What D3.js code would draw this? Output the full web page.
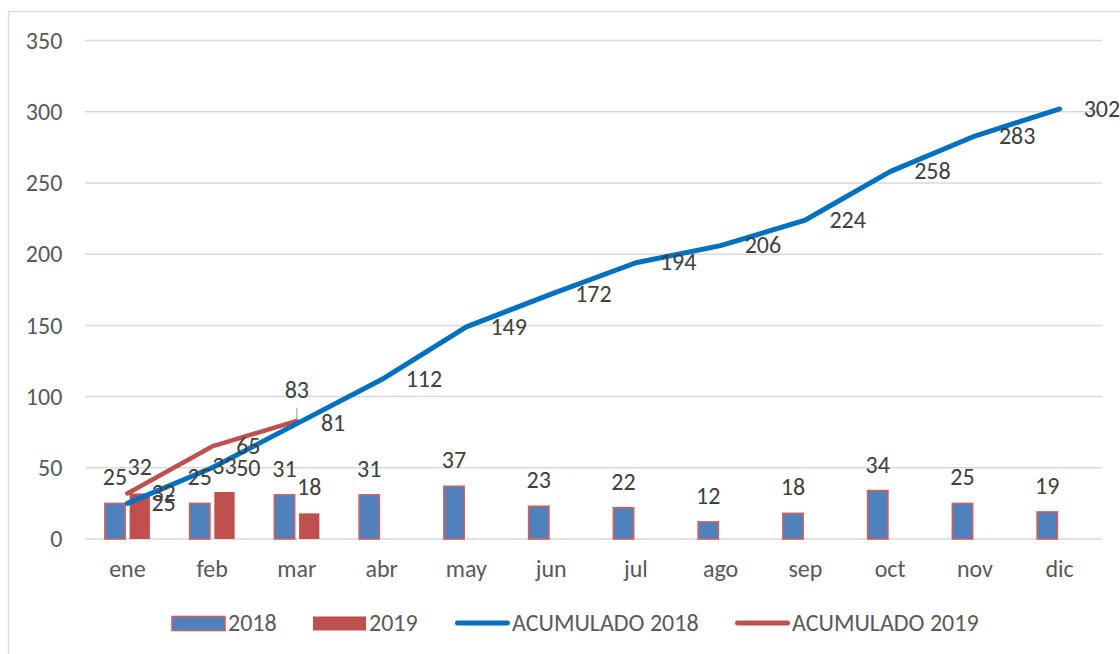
<!DOCTYPE html>
<html><head><meta charset="utf-8">
<script src="https://cdn.jsdelivr.net/npm/d3@7"></script>
<style>body{margin:0;background:#fff}svg{display:block}text{font-family:Carlito,Calibri,"Open Sans",sans-serif}</style>
</head><body><svg id="c" width="1120" height="654"></svg>
<script>
const months = ["ene","feb","mar","abr","may","jun","jul","ago","sep","oct","nov","dic"];
const monthly2018 = [25,25,31,31,37,23,22,12,18,34,25,19];
const monthly2019 = [32,33,18];
const acum2018 = [25,50,81,112,149,172,194,206,224,258,283,302];
const acum2019 = [32,65,83];
const yTicks = [0,50,100,150,200,250,300,350];
const legendLabels = ["2018","2019","ACUMULADO 2018","ACUMULADO 2019"];

const svg = d3.select("#c");
const BLUE="#4f81bd", RED="#c0504d", LBLUE="#0070c0";
const FS = "24px";

svg.append("rect").attr("x",8.5).attr("y",11.5).attr("width",1300).attr("height",800)
  .attr("fill","#fff").attr("stroke","#d9d9d9").attr("stroke-width",1.3);

const x = d3.scaleBand().domain(months).range([85,1102]).padding(0);
const y = d3.scaleLinear().domain([0,350]).range([539,40.6]);
const xs = d3.scaleBand().domain(["2018","2019"]).range([-22.5,22.5]).paddingInner(0.18);
const cx = m => x(m)+x.bandwidth()/2;

// gridlines
svg.append("g").selectAll("line").data(yTicks).join("line")
  .attr("x1",85).attr("x2",1102).attr("y1",d=>y(d)).attr("y2",d=>y(d))
  .attr("stroke","#d9d9d9").attr("stroke-width",1.5);

// y axis
const ya = svg.append("g").attr("transform","translate(85,0)")
  .call(d3.axisLeft(y).tickValues(yTicks).tickSize(0).tickPadding(22.7));
ya.select(".domain").remove();
ya.selectAll("text").attr("fill","#595959").style("font-size",FS);

// x axis
const xa = svg.append("g").attr("transform","translate(0,539)")
  .call(d3.axisBottom(x).tickSize(0).tickPadding(21));
xa.select(".domain").remove();
xa.selectAll("text").attr("fill","#595959").style("font-size",FS);

// bars
const b18 = months.map((m,i)=>({m,v:monthly2018[i]}));
const b19 = monthly2019.map((v,i)=>({m:months[i],v}));
svg.append("g").selectAll("rect").data(b18).join("rect")
  .attr("x",d=>cx(d.m)+xs("2018")).attr("width",xs.bandwidth())
  .attr("y",d=>y(d.v)).attr("height",d=>y(0)-y(d.v))
  .attr("fill",BLUE).attr("stroke","#d0605c").attr("stroke-width",1.6);
svg.append("g").selectAll("rect").data(b19).join("rect")
  .attr("x",d=>cx(d.m)+xs("2019")).attr("width",xs.bandwidth())
  .attr("y",d=>y(d.v)).attr("height",d=>y(0)-y(d.v))
  .attr("fill",RED);

// lines
const line = d3.line().x(d=>cx(d.m)).y(d=>y(d.v));
const l18 = months.map((m,i)=>({m,v:acum2018[i]}));
const l19 = acum2019.map((v,i)=>({m:months[i],v}));
svg.append("path").datum(l19).attr("d",line).attr("fill","none")
  .attr("stroke",RED).attr("stroke-width",4.5).attr("stroke-linecap","round").attr("stroke-linejoin","round");
svg.append("path").datum(l18).attr("d",line).attr("fill","none")
  .attr("stroke",LBLUE).attr("stroke-width",5).attr("stroke-linecap","round").attr("stroke-linejoin","round");

// labels
const lab = svg.append("g").attr("fill","#404040").style("font-size",FS);
lab.selectAll(".b18").data(b18).join("text")
  .attr("x",d=>cx(d.m)+xs("2018")+xs.bandwidth()/2).attr("y",d=>y(d.v)-18)
  .attr("text-anchor","middle").text(d=>d.v);
lab.selectAll(".b19").data(b19).join("text")
  .attr("x",d=>cx(d.m)+xs("2019")+xs.bandwidth()/2).attr("y",d=>y(d.v)-18)
  .attr("text-anchor","middle").text(d=>d.v);
lab.selectAll(".l18").data(l18).join("text")
  .attr("x",d=>cx(d.m)+24).attr("y",d=>y(d.v)+7.7).text(d=>d.v);
lab.selectAll(".l19").data(l19.slice(0,2)).join("text")
  .attr("x",d=>cx(d.m)+24).attr("y",d=>y(d.v)+7.7).text(d=>d.v);
const last19 = l19[2];
svg.append("line").attr("x1",cx(last19.m)).attr("x2",cx(last19.m))
  .attr("y1",y(last19.v)-13).attr("y2",y(last19.v)-1).attr("stroke","#a6a6a6").attr("stroke-width",1.2);
lab.append("text").attr("x",cx(last19.m)).attr("y",y(last19.v)-23)
  .attr("text-anchor","middle").text(last19.v);

// legend
const lg = svg.append("g").style("font-size",FS).attr("fill","#595959");
const items = [
  {t:legendLabels[0], type:"rect", fill:BLUE, stroke:"#d0605c", x:172},
  {t:legendLabels[1], type:"rect", fill:RED, stroke:null, x:313},
  {t:legendLabels[2], type:"line", color:LBLUE, x:455},
  {t:legendLabels[3], type:"line", color:RED, x:735}
];
items.forEach(it=>{
  if(it.type==="rect"){
    lg.append("rect").attr("x",it.x).attr("y",616.5).attr("width",53).attr("height",14)
      .attr("fill",it.fill).attr("stroke",it.stroke||"none").attr("stroke-width",1.6);
    lg.append("text").attr("x",it.x+56).attr("y",631).text(it.t);
  } else {
    lg.append("line").attr("x1",it.x+2.5).attr("x2",it.x+52.5).attr("y1",623).attr("y2",623)
      .attr("stroke",it.color).attr("stroke-width",5).attr("stroke-linecap","round");
    lg.append("text").attr("x",it.x+57).attr("y",631).text(it.t);
  }
});
</script></body></html>
